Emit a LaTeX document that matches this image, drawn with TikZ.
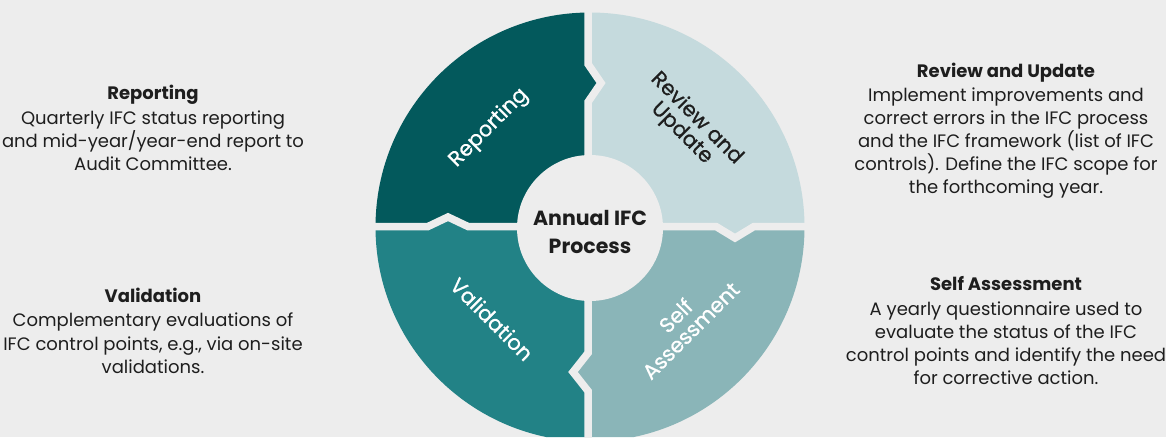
\documentclass[tikz,border=0pt]{standalone}
\usepackage{fontspec}
\setmainfont{Poppins}
\newfontfamily\segfont{Poppins}[FakeBold=0.8]
\definecolor{bgc}{HTML}{EDEDED}
\definecolor{repc}{HTML}{03595C}
\definecolor{revc}{HTML}{C5DADD}
\definecolor{selc}{HTML}{8AB5B8}
\definecolor{valc}{HTML}{228286}
\definecolor{txt}{HTML}{1E1E1E}
\tikzset{
  body/.style={font=\fontsize{18}{20}\selectfont, text=txt, inner sep=0pt, anchor=base},
  ttl/.style={font=\fontsize{18}{20}\selectfont\bfseries, text=txt, inner sep=0pt, anchor=base},
  seg/.style={font=\segfont\fontsize{21}{21}\selectfont, align=center, inner sep=0pt},
  gap/.style={draw=bgc, line width=7.5pt, miter limit=10, line join=miter},
}
\begin{document}
\begin{tikzpicture}[x=1pt,y=-1pt]
\fill[bgc] (0,0) rectangle (1166,437);
\useasboundingbox (0,0) rectangle (1166,437);
\begin{scope}
\clip (590,227) circle[radius=214.5];
\fill[repc] (0,0) -- (588,0) -- (588,64) -- (601,83) -- (588,102) -- (588,226.5) -- (468,226.5) -- (448,217) -- (428,226.5) -- (0,226.5) -- cycle;
\fill[revc] (588,0) -- (1166,0) -- (1166,226.5) -- (754,226.5) -- (735,238) -- (716,226.5) -- (588,226.5) -- (588,102) -- (601,83) -- (588,64) -- cycle;
\fill[selc] (1166,226.5) -- (1166,437) -- (588,437) -- (588,391) -- (573,372) -- (588,353) -- (588,226.5) -- (716,226.5) -- (735,238) -- (754,226.5) -- cycle;
\fill[valc] (0,226.5) -- (428,226.5) -- (448,217) -- (468,226.5) -- (588,226.5) -- (588,353) -- (573,372) -- (588,391) -- (588,437) -- (0,437) -- cycle;
\end{scope}
\draw[gap] (588,-5) -- (588,64) -- (601,83) -- (588,102) -- (588,226.5);
\draw[gap] (588,226.5) -- (716,226.5) -- (735,238) -- (754,226.5) -- (1170,226.5);
\draw[gap] (588,226.5) -- (588,353) -- (573,372) -- (588,391) -- (588,445);
\draw[gap] (588,226.5) -- (468,226.5) -- (448,217) -- (428,226.5) -- (-5,226.5);
\fill[bgc] (590,228) circle[radius=73];
% segment labels
\node[seg, text=white, rotate=45] (lrep) at (489,128) {Reporting};
\node[seg, text=txt, rotate=-45] (lrev) at (689,126) {Review and\\Update};
\node[seg, text=white, rotate=-45] (lval) at (492,319) {Validation};
\node[seg, text=white, rotate=45] (lsel) at (683,323) {Self\\Assessment};
% centre
\node[font=\fontsize{20.5}{28}\selectfont\bfseries, text=txt, align=center, inner sep=0pt] (ctr) at (590,232) {Annual IFC\\Process};
% left blocks
\node[ttl] (trep) at (153,99.5) {Reporting};
\foreach \s [count=\i] in {Quarterly IFC status reporting, and mid-year/year-end report to, Audit Committee.}
  \node[body] (brep\i) at (153,101.3+23*\i) {\s};
\node[ttl] (tval) at (153,302.7) {Validation};
\foreach \s [count=\i] in {Complementary evaluations of, {IFC control points, e.g., via on-site}, validations.}
  \node[body] (bval\i) at (153,303.5+23.3*\i) {\s};
% right blocks
\node[ttl] (trev) at (1006,77) {Review and Update};
\foreach \s [count=\i] in {Implement improvements and, correct errors in the IFC process, and the IFC framework (list of IFC, controls). Define the IFC scope for, the forthcoming year.}
  \node[body] (brev\i) at (1006,78.5+23*\i) {\s};
\node[ttl] (tsel) at (1006,290.7) {Self Assessment};
\foreach \s [count=\i] in {A yearly questionnaire used to, evaluate the status of the IFC, control points and identify the need, for corrective action.}
  \node[body] (bsel\i) at (1006,291.7+23.3*\i) {\s};
\end{tikzpicture}
\end{document}
